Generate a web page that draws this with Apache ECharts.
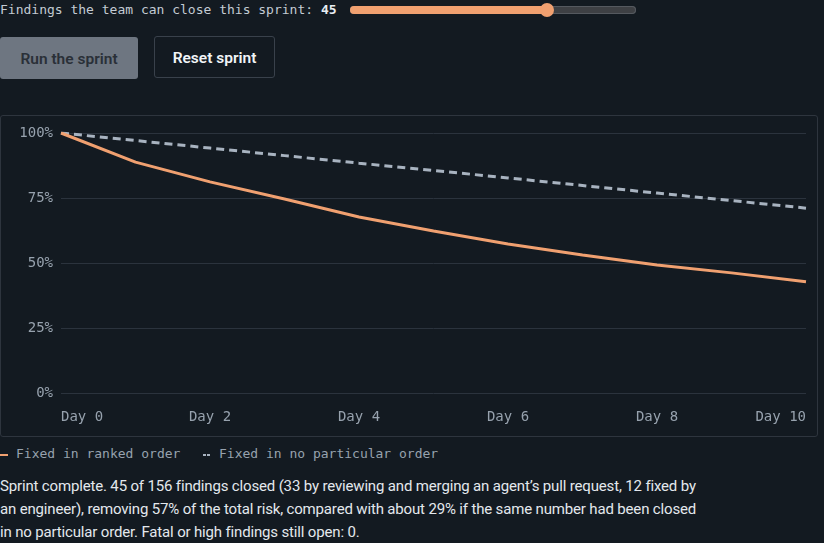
<!DOCTYPE html>
<html>
<head>
<meta charset="utf-8">
<script src="https://cdn.jsdelivr.net/npm/echarts@6/dist/echarts.min.js"></script>
<style>
  html, body { margin:0; padding:0; background:#131a21; width:824px; height:543px; overflow:hidden; }
  body { position:relative; font-family:"Roboto","Noto Sans",sans-serif; }
  .mono { font-family:"DejaVu Sans Mono","Liberation Mono",monospace; font-size:13px; }
  #topLabel { position:absolute; left:0; top:1px; line-height:18px; color:#c3cbd4; white-space:pre; }
  #topLabel b { color:#e8edf2; }
  #track { position:absolute; left:350px; top:6px; width:286px; height:8px; border-radius:4px; background:#3e4044; box-shadow: inset 0 0 0 1px #55595f; }
  #fill { position:absolute; left:350px; top:6px; width:197px; height:8px; border-radius:4px; background:#f0a070; }
  #thumb { position:absolute; left:540px; top:3px; width:14px; height:14px; border-radius:7px; background:#f0a070; }
  .btn { position:absolute; box-sizing:border-box; height:42px; border-radius:3px; font-size:15.5px; font-weight:600; display:flex; align-items:center; justify-content:center; }
  #run { left:0; top:37px; width:138px; background:#6e7681; color:#2a3038; padding-top:1px; }
  #reset { left:154px; top:36px; width:121px; border:1px solid #39414b; color:#f1f4f7; padding-top:2px; }
  #chart { position:absolute; left:0; top:115px; width:818px; height:322px; }
  #frame { position:absolute; left:0; top:115px; width:818px; height:322px; box-sizing:border-box; border:1px solid #2e353e; border-radius:3px; pointer-events:none; }
  #legend { position:absolute; left:0; top:445px; line-height:18px; color:#97a2ae; white-space:pre; }
  .sw { position:absolute; top:9px; height:2px; }
  #para { position:absolute; left:0; top:475px; font-size:15px; letter-spacing:-0.16px; line-height:23px; color:#e3e8ed; white-space:nowrap; }
</style>
</head>
<body>
<div id="topLabel" class="mono">Findings the team can close this sprint: <b>45</b></div>
<div id="track"></div><div id="fill"></div><div id="thumb"></div>
<div id="run" class="btn">Run the sprint</div>
<div id="reset" class="btn">Reset sprint</div>
<div id="chart"></div>
<div id="frame"></div>
<div id="legend" class="mono"><span class="sw" style="left:0;width:8px;background:#f0a070"></span><span style="position:absolute;left:16px">Fixed in ranked order</span><span class="sw" style="left:203px;width:3px;background:#a8b3c0"></span><span class="sw" style="left:207px;width:3px;background:#a8b3c0"></span><span style="position:absolute;left:219px">Fixed in no particular order</span></div>
<div id="para">Sprint complete. 45 of 156 findings closed (33 by reviewing and merging an agent’s pull request, 12 fixed by<br>an engineer), removing 57% of the total risk, compared with about 29% if the same number had been closed<br>in no particular order. Fatal or high findings still open: 0.</div>
<script>
const days = [0,1,2,3,4,5,6,7,8,9,10];
const rankedRemaining = [100, 88.8, 81.2, 74.6, 67.7, 62.3, 57.3, 53.1, 49.2, 46.2, 42.8];
const randomRemaining = [100, 97.1, 94.2, 91.3, 88.4, 85.6, 82.7, 79.8, 76.9, 74.0, 71.1];
const yTicks = [0, 25, 50, 75, 100];
const seriesNames = ['Fixed in ranked order', 'Fixed in no particular order'];

const chart = echarts.init(document.getElementById('chart'), null, {renderer:'canvas'});
const mono = '"DejaVu Sans Mono","Liberation Mono",monospace';
chart.setOption({
  animation:false,
  backgroundColor:'transparent',
  grid:{left:61, right:12, top:18, bottom:44},
  xAxis:{
    type:'value', min:0, max:10, interval:2,
    axisLine:{show:false}, axisTick:{show:false}, splitLine:{show:false},
    axisLabel:{color:'#97a2ae', fontFamily:mono, fontSize:14, margin:17,
      formatter:v => 'Day ' + v, alignMinLabel:'left', alignMaxLabel:'right'}
  },
  yAxis:{
    type:'value', min:yTicks[0], max:yTicks[yTicks.length-1], interval:25,
    axisLine:{show:false}, axisTick:{show:false},
    splitLine:{lineStyle:{color:'#2b333d', width:1}},
    axisLabel:{color:'#97a2ae', fontFamily:mono, fontSize:14, margin:8, formatter:'{value}%'}
  },
  series:[
    {name:seriesNames[1], type:'line', showSymbol:false, data:days.map((d,i)=>[d, randomRemaining[i]]),
      lineStyle:{color:'#a8b3c0', width:3, type:[8,5]}},
    {name:seriesNames[0], type:'line', showSymbol:false, data:days.map((d,i)=>[d, rankedRemaining[i]]),
      lineStyle:{color:'#f0a070', width:3}}
  ]
});
</script>
</body>
</html>
